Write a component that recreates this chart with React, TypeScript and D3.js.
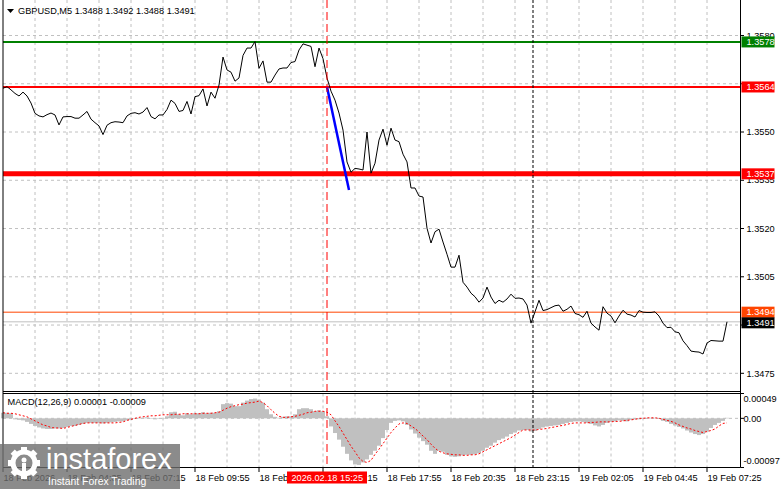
import React from 'react';
import * as d3 from 'd3';

const W = 781;
const H = 489;
const FONT = "'Liberation Sans', Arial, sans-serif";

// Close prices, one value every 2 bars (M5), starting 18 Feb 01:55
const closePrices = [
  1.35636, 1.35641, 1.35631, 1.3562, 1.35612, 1.35624, 1.35612, 1.3559, 1.35558, 1.3555,
  1.35547, 1.35554, 1.35559, 1.35553, 1.35522, 1.35547, 1.35548, 1.35548, 1.35543, 1.35543,
  1.35553, 1.35564, 1.3554, 1.35529, 1.35519, 1.35492, 1.35521, 1.35529, 1.35532, 1.35531,
  1.35529, 1.3555, 1.35558, 1.3556, 1.35556, 1.35562, 1.35576, 1.35548, 1.35541, 1.35553,
  1.35553, 1.3557, 1.35599, 1.35589, 1.35564, 1.35567, 1.35595, 1.35556, 1.3561, 1.35613,
  1.35634, 1.35581, 1.35624, 1.35605, 1.35646, 1.35733, 1.35693, 1.35686, 1.35658, 1.35668,
  1.35738, 1.35761, 1.35761, 1.35781, 1.35698, 1.35721, 1.35655, 1.35655, 1.35677, 1.35696,
  1.35699, 1.35699, 1.35716, 1.35719, 1.35755, 1.35774, 1.3577, 1.35766, 1.35703, 1.35761,
  1.35728, 1.35668, 1.35627, 1.35599, 1.35559, 1.35506, 1.35407, 1.35375, 1.35387, 1.35385,
  1.35382, 1.355, 1.35372, 1.35403, 1.35475, 1.35509, 1.35459, 1.35512, 1.35475, 1.3547,
  1.35431, 1.35407, 1.35326, 1.35326, 1.35301, 1.35298, 1.35201, 1.35155, 1.3519, 1.35198,
  1.35158, 1.3512, 1.3508, 1.3508, 1.35117, 1.35033, 1.35018, 1.34999, 1.34988, 1.34971,
  1.34984, 1.35018, 1.34987, 1.34967, 1.34977, 1.34971, 1.34981, 1.34996, 1.34983, 1.34984,
  1.34981, 1.34962, 1.34906, 1.34941, 1.34977, 1.34945, 1.34948, 1.34954, 1.3496, 1.34962,
  1.34943, 1.34949, 1.34959, 1.34936, 1.34932, 1.34924, 1.34943, 1.34906, 1.34894, 1.34884,
  1.34957, 1.34937, 1.34928, 1.34907, 1.34928, 1.34946, 1.34934, 1.34931, 1.34925, 1.34945,
  1.3494, 1.34939, 1.34939, 1.34941, 1.34928, 1.34906, 1.34892, 1.34893, 1.34879, 1.34876,
  1.34851, 1.34836, 1.34819, 1.34817, 1.34816, 1.3481, 1.34844, 1.34852, 1.34851, 1.3485,
  1.3485, 1.3491,
];

// MACD main (histogram) in units of 0.00001, same sampling
const macdMainE5 = [
  11, 11, 10, -2, -3, -4, -7, -11, -15, -18,
  -20, -21, -21, -20, -20, -19, -17, -15, -15, -13,
  -11, -9, -9, -9, -9, -10, -9, -8, -7, -6,
  -6, -4, -3, -1, 0, 1, 2, -1, -2, -1,
  0, 4, 12, 13, 8, 6, 10, 8, 10, 10,
  12, 10, 11, 11, 14, 28, 30, 29, 24, 24,
  31, 35, 38, 39, 37, 31, 18, 8, 3, 1,
  3, 4, 4, 8, 18, 20, 20, 18, 14, 16,
  14, 4, -16, -29, -42, -56, -70, -83, -91, -92,
  -87, -81, -72, -64, -54, -39, -23, -9, -5, -4,
  -6, -13, -22, -30, -38, -45, -52, -64, -70, -64,
  -66, -72, -75, -76, -75, -73, -72, -72, -71, -69,
  -64, -58, -54, -48, -43, -40, -36, -31, -28, -24,
  -23, -23, -26, -25, -21, -18, -16, -15, -14, -13,
  -11, -9, -7, -6, -6, -7, -9, -11, -14, -16,
  -13, -9, -7, -6, -4, -5, -6, -3, -2, -2,
  -1, 0, 1, 1, -1, -5, -7, -11, -14, -17,
  -20, -24, -28, -31, -33, -31, -26, -19, -13, -9,
  -5, 1,
];

// MACD signal in units of 0.00001
const macdSignalE5 = [
  11, 10, 10, 9, 7, 5, 3, -1, -5, -9,
  -13, -15, -18, -19, -19, -20, -18, -16, -14, -12,
  -10, -9, -9, -9, -9, -9, -9, -9, -9, -8,
  -7, -4, -2, 0, 2, 3, 4, 5, 5, 6,
  7, 7, 7, 8, 8, 9, 9, 9, 9, 9,
  10, 10, 10, 11, 12, 16, 20, 23, 25, 27,
  28, 30, 31, 32, 34, 31, 25, 17, 10, 4,
  2, 2, 3, 4, 6, 8, 11, 12, 14, 14,
  14, 12, 7, -5, -16, -29, -42, -55, -66, -78,
  -85, -87, -83, -71, -61, -50, -39, -28, -19, -11,
  -9, -10, -15, -20, -27, -35, -42, -51, -59, -65,
  -68, -70, -71, -72, -72, -73, -73, -72, -72, -70,
  -66, -62, -58, -54, -50, -46, -42, -38, -33, -28,
  -23, -23, -23, -23, -22, -21, -20, -18, -17, -15,
  -14, -12, -10, -9, -9, -9, -9, -8, -8, -7,
  -7, -7, -7, -6, -6, -5, -4, -3, -2, 0,
  0, 1, 1, 1, 0, -2, -4, -6, -9, -13,
  -16, -19, -21, -24, -26, -28, -26, -24, -21, -15,
  -10, -9,
];

const priceTicks = [1.358, 1.3565, 1.355, 1.3535, 1.352, 1.3505, 1.349, 1.3475];
const hiddenTickLabels = [1.3565, 1.349];
const timeLabels = [
  '18 Feb 2026', '18 Feb 04:35', '18 Feb 07:15', '18 Feb 09:55', '18 Feb 12:35', '18 Feb 15:15',
  '18 Feb 17:55', '18 Feb 20:35', '18 Feb 23:15', '19 Feb 02:05', '19 Feb 04:45', '19 Feb 07:25',
];
const levelPrices = [1.3578, 1.3564, 1.3537, 1.3494];
const bidPrice = 1.3491;
const macdTicks = [0.00049, 0.0, -0.00097];
const macdTickLabels = ['0.00049', '0.00', '-0.00097'];
const signalBar = 162; // 2026.02.18 15:25
const dayBar = 265; // 19 Feb 00:00
const trendStart = { bar: 162, price: 1.3564 };
const trendEnd = { bar: 173, price: 1.3532 };
const header = 'GBPUSD,M5  1.3488 1.3492 1.3488 1.3491';
const macdHeader = 'MACD(12,26,9) 0.00001 -0.00009';

export default function App() {
  const left = 3;
  const right = 740.5;
  const mainBottom = 391.5;
  const macdTop = 393.5;
  const macdBottom = 467.5;

  const x = d3.scaleLinear().domain([0, 368]).range([3, 739]);
  const y = d3.scaleLinear().domain([1.3475, 1.358]).range([373.3, 35.5]);
  const ym = d3.scaleLinear().domain([-97e-5, 49e-5]).range([macdBottom, macdTop]);

  const priceLine = d3
    .line<number>()
    .x((_, i) => x(i * 2))
    .y((d) => y(d))(closePrices) as string;

  const signalLine = d3
    .line<number>()
    .x((_, i) => x(i * 2))
    .y((d) => ym(d * 1e-5))(macdSignalE5) as string;

  const gridBars = d3.range(16, 368, 16);
  const levelColors = ['#008000', '#ff0000', '#ff0000', '#ff4500'];
  const levelWidths = [2, 2, 5, 1];

  const dashGrid = '3,3';
  const gridColor = '#c0c0c0';

  const gearTeeth = d3.range(8).map((i) => (i * 360) / 8);

  return (
    <svg
      width={W}
      height={H}
      viewBox={`0 0 ${W} ${H}`}
      style={{ position: 'fixed', left: 0, top: 0, background: '#fff' }}
      fontFamily={FONT}
    >
      <rect x={0} y={0} width={W} height={H} fill="#fff" />

      {/* vertical grid */}
      {gridBars.map((b) => (
        <g key={'vg' + b}>
          <line x1={x(b)} x2={x(b)} y1={0} y2={mainBottom} stroke={gridColor} strokeDasharray={dashGrid} />
          <line x1={x(b)} x2={x(b)} y1={macdTop} y2={macdBottom} stroke={gridColor} strokeDasharray={dashGrid} />
        </g>
      ))}
      {/* horizontal grid */}
      {priceTicks.map((p) => (
        <line key={'hg' + p} x1={left} x2={right} y1={y(p)} y2={y(p)} stroke={gridColor} strokeDasharray={dashGrid} />
      ))}
      <line x1={left} x2={right} y1={ym(0)} y2={ym(0)} stroke={gridColor} strokeDasharray={dashGrid} />

      {/* MACD histogram */}
      {macdMainE5.map((v, i) => {
        const val = v * 1e-5;
        const y0 = ym(Math.max(val, 0));
        const y1 = ym(Math.min(val, 0));
        return (
          <rect key={'h' + i} x={x(i * 2) - 2} width={4} y={y0} height={Math.max(y1 - y0, 0.5)} fill="#c0c0c0" />
        );
      })}
      <path d={signalLine} fill="none" stroke="#ff0000" strokeWidth={1} strokeDasharray="2,2" />

      {/* level lines */}
      <line x1={left} x2={right} y1={y(bidPrice)} y2={y(bidPrice)} stroke="#c0c0c0" strokeWidth={1} />
      {levelPrices.map((p, i) => (
        <line key={'lv' + p} x1={left} x2={right} y1={y(p)} y2={y(p)} stroke={levelColors[i]} strokeWidth={levelWidths[i]} />
      ))}

      {/* price line */}
      <path d={priceLine} fill="none" stroke="#000" strokeWidth={1} strokeLinejoin="round" />

      {/* trend line */}
      <line
        x1={x(trendStart.bar)}
        y1={y(trendStart.price)}
        x2={x(trendEnd.bar)}
        y2={y(trendEnd.price)}
        stroke="#0000ff"
        strokeWidth={2.5}
      />

      {/* vertical markers */}
      <line x1={x(signalBar)} x2={x(signalBar)} y1={0} y2={macdBottom} stroke="#ff0000" strokeDasharray="8,4" />
      <line x1={x(dayBar)} x2={x(dayBar)} y1={0} y2={macdBottom} stroke="#000" strokeDasharray="3,2" />

      {/* panel borders */}
      <line x1={left} x2={left} y1={0} y2={macdBottom} stroke="#000" />
      <line x1={right} x2={right} y1={0} y2={macdBottom} stroke="#000" />
      <line x1={left} x2={right} y1={mainBottom} y2={mainBottom} stroke="#000" />
      <line x1={left} x2={right} y1={macdTop} y2={macdTop} stroke="#000" />
      <line x1={left} x2={right} y1={macdBottom} y2={macdBottom} stroke="#000" />

      {/* right price axis */}
      {priceTicks.map((p) => (
        <g key={'pt' + p}>
          <line x1={right} x2={744} y1={y(p)} y2={y(p)} stroke="#000" />
          {hiddenTickLabels.includes(p) ? null : (
            <text x={746.5} y={y(p)} dy="0.35em" fontSize={9.2} fill="#000">
              {p.toFixed(4)}
            </text>
          )}
        </g>
      ))}
      {macdTicks.map((v, i) => (
        <g key={'mt' + i}>
          <line x1={right} x2={744} y1={ym(v)} y2={ym(v)} stroke="#000" />
          <text
            x={743.5}
            y={i === 0 ? ym(v) + 5.5 : i === 2 ? ym(v) - 6.5 : ym(v)}
            dy="0.35em"
            fontSize={9.2}
            fill="#000"
          >
            {macdTickLabels[i]}
          </text>
        </g>
      ))}

      {/* level labels */}
      {levelPrices.map((p, i) => (
        <g key={'ll' + p}>
          <rect x={741.5} y={y(p) - 5.5} width={33} height={11} fill={levelColors[i]} />
          <text x={746.5} y={y(p)} dy="0.35em" fontSize={9.2} fill="#fff">
            {p.toFixed(4)}
          </text>
        </g>
      ))}
      <rect x={741.5} y={y(bidPrice) - 4.5} width={33} height={11} fill="#000" />
      <text x={746.5} y={y(bidPrice) + 1} dy="0.35em" fontSize={9.2} fill="#fff">
        {bidPrice.toFixed(4)}
      </text>

      {/* time axis */}
      {timeLabels.map((t, i) => (
        <g key={'tl' + i}>
          <line x1={x(i * 32)} x2={x(i * 32)} y1={macdBottom} y2={472} stroke="#000" />
          <text x={x(i * 32) + 0.5} y={477.5} dy="0.35em" fontSize={9.2} fill="#000">
            {t}
          </text>
        </g>
      ))}
      <rect x={287} y={471.5} width={80} height={12} fill="#ff0000" />
      <text x={291.5} y={477.5} dy="0.35em" fontSize={9.2} fill="#fff">
        2026.02.18 15:25
      </text>

      {/* headers */}
      <path d="M7,9 L14,9 L10.5,13 Z" fill="#000" />
      <text x={18} y={14} fontSize={9.2} fill="#000">
        {header}
      </text>
      <text x={7.5} y={404.5} fontSize={9.2} fill="#000">
        {macdHeader}
      </text>

      {/* watermark logo */}
      <g>
        <rect x={0} y={444} width={180} height={45} fill="#6e6e6e" opacity={0.8} />
        <g transform="translate(24,463)" fill="#fff">
          {gearTeeth.map((a) => (
            <rect key={'gt' + a} x={-3} y={-16} width={6} height={7} transform={`rotate(${a})`} />
          ))}
          <circle r={11} fill="none" stroke="#fff" strokeWidth={5} />
          <circle cx={0} cy={-3} r={2.5} />
          <rect x={-2} y={0} width={4} height={10} />
        </g>
        <text x={46} y={469} fontSize={29} fill="#fff" fontFamily={FONT}>
          instaforex
        </text>
        <text x={48} y={485} fontSize={10.4} fill="#fff" fontFamily={FONT}>
          Instant Forex Trading
        </text>
      </g>
    </svg>
  );
}
